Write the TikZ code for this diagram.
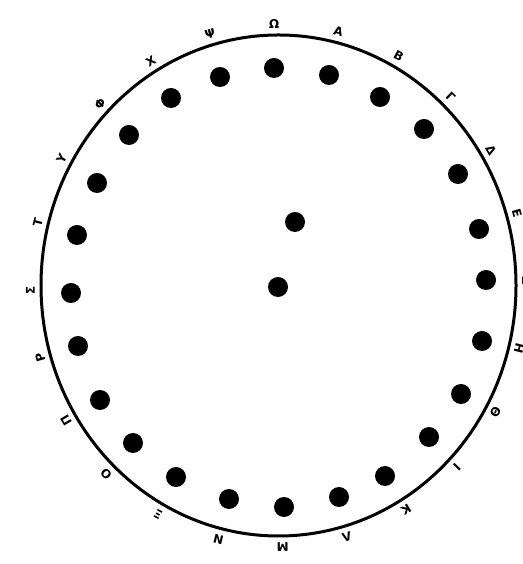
\documentclass[tikz,border=0pt]{standalone}
\usepackage{fontspec}
\newfontfamily\gk{DejaVu Sans}
\begin{document}
\begin{tikzpicture}[x=1pt,y=1pt,
  dot/.style={circle,fill=black,inner sep=0pt,minimum size=20pt},
  lbl/.style={inner sep=0pt,font=\gk\bfseries\fontsize{12}{12}\selectfont},
  rim/.style={line width=3pt}]
\useasboundingbox[fill=white] (0,0) rectangle (522,564);
\coordinate (c) at (278.5,278.5);
\draw[rim] (c) ellipse [x radius=237.5, y radius=250.5];
% outer ring of dots
\foreach \p [count=\i] in {(274,496),(329,489),(380,467),(424,435),(458,390),(479,335),
  (486,284),(482,223),(461,170),(429,127),(385,88),(339,67),(284,57),(229,65),
  (176,87),(133,121),(100,164),(78,218),(71,271),(77,329),(97,381),(129,429),
  (171,466),(220,487)}
  \node[dot] (d\i) at \p {};
% inner dots
\node[dot] (m1) at (295,342) {};
\node[dot] (m2) at (278,277) {};
% letters
\foreach \l [count=\k from 0] in {Ω,Α,Β,Γ,Δ,Ε,Ζ,Η,Θ,Ι,Κ,Λ,Μ,Ν,Ξ,Ο,Π,Ρ,Σ,Τ,Υ,Φ,Χ,Ψ}{
  \pgfmathsetmacro\a{91-15*\k}
  \node[lbl,rotate=\a-90] (L\k) at ([shift={(c)}]\a:248 and 262) {\l};
}
\end{tikzpicture}
\end{document}
